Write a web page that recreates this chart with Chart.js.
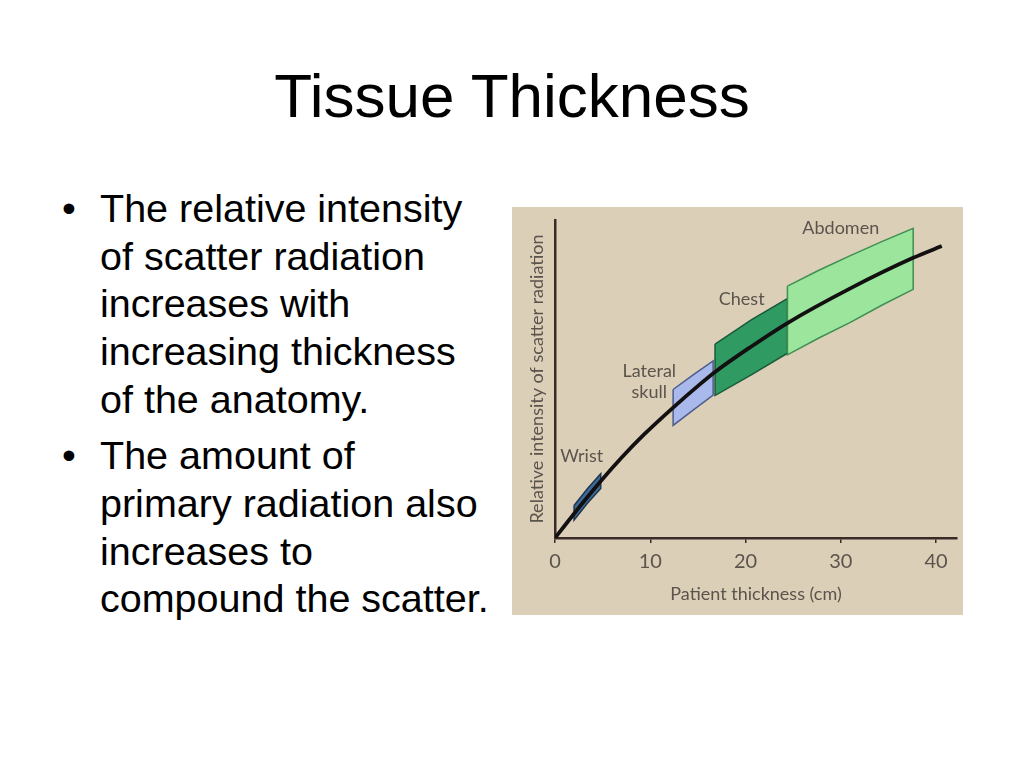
<!DOCTYPE html>
<html>
  <head>
    <title>Tissue Thickness</title>
    <meta charset="utf-8">
    <style>
      body { margin: 0; background: #fff; width: 1024px; height: 768px; position: relative; overflow: hidden; font-family: "Liberation Sans", Arial, sans-serif; }
      #title { position: absolute; left: 0; width: 1024px; top: 65px; text-align: center; font-size: 62px; line-height: 62px; color: #000; }
      #bullets { position: absolute; left: 0; top: 185px; width: 500px; font-size: 39.5px; line-height: 47.7px; color: #000; }
      #bullets p { margin: 0 0 8.8px 0; padding-left: 100px; position: relative; }
      #bullets p span { position: absolute; left: 62px; top: 0; }
      #myChart { position: absolute; left: 512px; top: 207px; background: #dccfb8; }
    </style>
  </head>
  <body>
    <div id="title">Tissue Thickness</div>
    <div id="bullets">
      <p><span>&bull;</span>The relative intensity<br>of scatter radiation<br>increases with<br>increasing thickness<br>of the anatomy.</p>
      <p><span>&bull;</span>The amount of<br>primary radiation also<br>increases to<br>compound the scatter.</p>
    </div>
    <canvas id="myChart" width="451" height="408"></canvas>

    <script src="https://cdn.jsdelivr.net/npm/chart.js@4.4.1/dist/chart.umd.min.js"></script>
    <script>
      // scatter curve (patient thickness cm -> relative intensity)
      const curveX = [0, 1.75, 4.7, 7.0, 9.3, 12.4, 15.2, 16.8, 20.5, 24.4, 31.0, 37.6, 40.6];
      const curveY = [0, 6.7, 17.5, 25.3, 32.4, 41.0, 48.3, 52.2, 60.0, 67.6, 78.5, 88.1, 91.8];

      // anatomy bands: upper edge left->right, then lower edge right->left
      const wristX = [2.0, 3.4, 4.8, 4.8, 3.4, 2.0];
      const wristY = [10.2, 15.5, 20.2, 15.6, 10.9, 5.6];
      const skullX = [12.4, 14.5, 16.6, 16.6, 14.5, 12.4];
      const skullY = [46.7, 51.3, 55.7, 44.9, 40.2, 35.4];
      const chestX = [16.8, 20.6, 24.4, 24.4, 20.6, 16.8];
      const chestY = [61.0, 68.6, 75.3, 58.1, 51.3, 44.8];
      const abdomenX = [24.4, 27.7, 31.0, 34.3, 37.6, 37.6, 34.3, 31.0, 27.7, 24.4];
      const abdomenY = [79.2, 84.2, 88.8, 93.2, 97.4, 78.2, 73.2, 67.8, 62.9, 57.6];

      const labelText = ['Abdomen', 'Chest', 'Lateral', 'skull', 'Wrist'];
      const labelX = [30.0, 19.6, 9.9, 9.9, 2.8];
      const labelY = [97.4, 75.1, 52.6, 45.7, 25.6];

      const xTicks = [0, 10, 20, 30, 40];

      function pts(xs, ys, close) {
        var p = xs.map(function (x, i) { return {x: x, y: ys[i]}; });
        if (close) p.push({x: xs[0], y: ys[0]});
        return p;
      }

      function band(xs, ys, fillCol, lineCol) {
        return {
          data: pts(xs, ys, true),
          showLine: true,
          fill: 'shape',
          backgroundColor: fillCol,
          borderColor: lineCol,
          borderWidth: 1.5,
          pointRadius: 0,
          tension: 0
        };
      }

      const textFont = '18px Lato, "Noto Sans", sans-serif';
      const textCol = '#5b544d';
      const axisCol = '#3b2a27';

      const bandLabels = {
        id: 'bandLabels',
        afterDatasetsDraw: function (chart) {
          var ctx = chart.ctx;
          var xs = chart.scales.x, ys = chart.scales.y;
          ctx.save();
          ctx.font = textFont;
          ctx.fillStyle = textCol;
          ctx.textAlign = 'center';
          ctx.textBaseline = 'middle';
          for (var i = 0; i < labelText.length; i++) {
            ctx.fillText(labelText[i], xs.getPixelForValue(labelX[i]), ys.getPixelForValue(labelY[i]));
          }
          ctx.restore();
        }
      };

      var ctx = document.getElementById('myChart');
      var myChart = new Chart(ctx, {
        type: 'scatter',
        data: {
          datasets: [
            {
              data: pts(curveX, curveY, false),
              showLine: true,
              borderColor: '#121010',
              borderWidth: 3.8,
              pointRadius: 0,
              cubicInterpolationMode: 'monotone',
              fill: false
            },
            band(abdomenX, abdomenY, '#9be59d', '#3f8f52'),
            band(chestX, chestY, '#2f9a62', '#1a5a3a'),
            band(skullX, skullY, '#a9b9ec', '#4d5c8c'),
            band(wristX, wristY, '#3d6a98', '#1e3550')
          ]
        },
        options: {
          responsive: false,
          animation: false,
          layout: {padding: {top: 13, right: 6, left: 0, bottom: 0}},
          plugins: {legend: {display: false}, tooltip: {enabled: false}},
          scales: {
            x: {
              type: 'linear',
              min: 0,
              max: 42.2,
              afterFit: function (s) { s.height = 77; },
              afterBuildTicks: function (s) { s.ticks = xTicks.map(function (v) { return {value: v}; }); },
              ticks: {color: textCol, font: {family: 'Lato', size: 20}, padding: 7, maxRotation: 0},
              grid: {display: true, drawOnChartArea: false, drawTicks: true, tickLength: 5, color: axisCol, lineWidth: 1.5},
              border: {display: true, color: axisCol, width: 2.5},
              title: {display: true, text: 'Patient thickness (cm)', color: textCol, font: {family: 'Lato', size: 18}, padding: {top: 0, bottom: 10}}
            },
            y: {
              type: 'linear',
              min: 0,
              max: 100,
              afterFit: function (s) { s.width = 43; },
              ticks: {display: false},
              grid: {display: false},
              border: {display: true, color: axisCol, width: 2.5},
              title: {display: true, text: 'Relative intensity of scatter radiation', color: textCol, font: {family: 'Lato', size: 18}, padding: {top: 14, bottom: 0}}
            }
          }
        },
        plugins: [bandLabels]
      });
    </script>
  </body>
</html>
